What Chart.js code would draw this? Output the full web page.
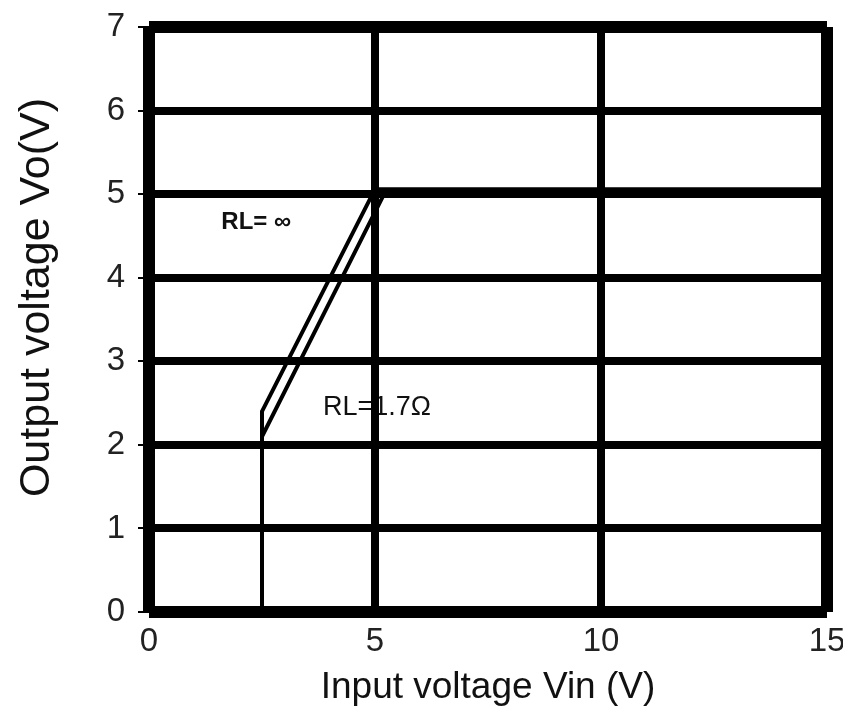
<!DOCTYPE html>
<html>
<head>
<meta charset="utf-8">
<script src="https://cdn.jsdelivr.net/npm/chart.js@4.4.1/dist/chart.umd.min.js"></script>
<style>
  html, body { margin: 0; padding: 0; background: #fff; }
  #wrap { width: 843px; height: 716px; }
</style>
</head>
<body>
<div id="wrap"><canvas id="chart"></canvas></div>
<script>
// values
const xTicks = [0, 5, 10, 15];
const yTicks = [0, 1, 2, 3, 4, 5, 6, 7];

const vinInf = [2.5, 2.5, 5.0, 15];
const voInf = [0, 2.4, 5.06, 5.06];

const vinLow = [2.5, 2.5, 5.2, 15];
const voLow = [0, 2.1, 5.0, 5.0];

const labelInf = 'RL= ∞';
const labelLow = 'RL=1.7Ω';
const yTitle = 'Output voltage Vo(V)';

const FONT = '"Liberation Sans", Arial, sans-serif';

const toPoints = (xs, ys) => xs.map((x, i) => ({ x, y: ys[i] }));

// frame = outer grid lines drawn thicker
const gridWidth = (ctx) => {
  const n = ctx.scale.ticks.length;
  return (ctx.index === 0 || ctx.index === n - 1) ? 12 : 8;
};

const notes = {
  id: 'notes',
  beforeDraw(chart) {
    const { ctx, chartArea, scales: { x, y } } = chart;
    ctx.save();
    ctx.fillStyle = '#fff';
    ctx.fillRect(0, 0, chart.width, chart.height);
    ctx.fillStyle = '#111';
    ctx.textBaseline = 'middle';
    ctx.textAlign = 'left';
    ctx.font = 'bold 24px ' + FONT;
    ctx.fillText(labelInf, x.getPixelForValue(1.6), y.getPixelForValue(4.66));
    ctx.font = '27px ' + FONT;
    ctx.fillText(labelLow, x.getPixelForValue(3.85), y.getPixelForValue(2.45));

    // y axis title, sits a bit above the middle of the axis
    ctx.translate(49, (chartArea.top + chartArea.bottom) / 2 - 22);
    ctx.rotate(-Math.PI / 2);
    ctx.textAlign = 'center';
    ctx.textBaseline = 'alphabetic';
    ctx.font = '43px ' + FONT;
    ctx.fillText(yTitle, 0, 0);
    ctx.restore();
  }
};

new Chart(document.getElementById('chart'), {
  type: 'scatter',
  data: {
    datasets: [
      {
        label: labelInf,
        data: toPoints(vinInf, voInf),
        showLine: true,
        borderColor: '#000',
        borderWidth: 4,
        pointRadius: 0,
        tension: 0
      },
      {
        label: labelLow,
        data: toPoints(vinLow, voLow),
        showLine: true,
        borderColor: '#000',
        borderWidth: 4,
        pointRadius: 0,
        tension: 0
      }
    ]
  },
  options: {
    responsive: true,
    maintainAspectRatio: false,
    animation: false,
    layout: { padding: { left: 0, top: 27, right: 16, bottom: 0 } },
    plugins: {
      legend: { display: false },
      tooltip: { enabled: false }
    },
    scales: {
      x: {
        type: 'linear',
        min: 0,
        max: 15,
        afterBuildTicks: (s) => { s.ticks = xTicks.map(v => ({ value: v })); },
        afterFit: (s) => {
          s.height = 104;
          s.paddingLeft = 0;
          s.paddingRight = 0;
        },
        border: { display: false },
        grid: {
          color: '#000',
          lineWidth: gridWidth,
          drawTicks: false
        },
        ticks: {
          color: '#222',
          font: { family: FONT, size: 33 },
          padding: 10,
          maxRotation: 0
        },
        title: {
          display: true,
          text: 'Input voltage Vin (V)',
          color: '#111',
          font: { family: FONT, size: 37 },
          padding: { top: 0, bottom: 6 }
        }
      },
      y: {
        type: 'linear',
        min: 0,
        max: 7,
        afterBuildTicks: (s) => { s.ticks = yTicks.map(v => ({ value: v })); },
        afterFit: (s) => {
          s.width = 149;
          s.paddingTop = 0;
          s.paddingBottom = 0;
        },
        border: { display: false },
        grid: {
          color: '#000',
          lineWidth: gridWidth,
          drawTicks: true,
          tickLength: 11,
          tickWidth: 2,
          tickColor: '#000'
        },
        ticks: {
          color: '#222',
          font: { family: FONT, size: 33 },
          padding: 13
        }
      }
    }
  },
  plugins: [notes]
});
</script>
</body>
</html>
